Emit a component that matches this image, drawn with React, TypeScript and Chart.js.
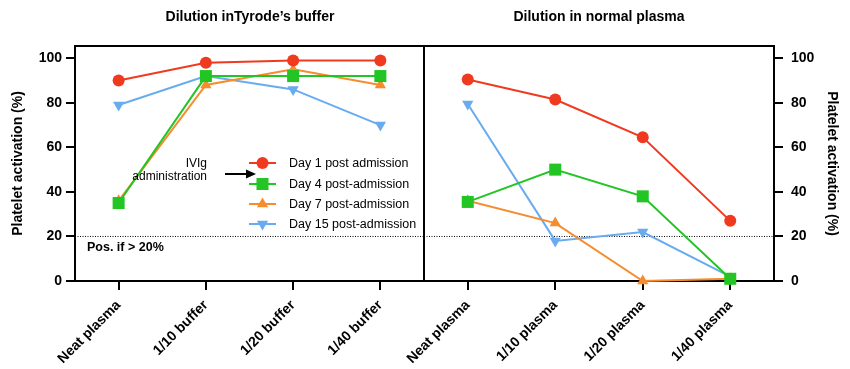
import React, { useEffect, useRef } from 'react';
import { Chart, registerables } from 'chart.js';
import { drawPoint } from 'chart.js/helpers';
Chart.register(...registerables);

const FONT = '"Liberation Sans", Arial, Helvetica, sans-serif';

const bufferCategories = ['Neat plasma', '1/10 buffer', '1/20 buffer', '1/40 buffer'];
const plasmaCategories = ['Neat plasma', '1/10 plasma', '1/20 plasma', '1/40 plasma'];
const seriesLabels = ['Day 1 post admission', 'Day 4 post-admission', 'Day 7 post-admission', 'Day 15 post-admission'];

const bufferDay1 = [90, 98, 99, 99];
const bufferDay4 = [35, 92, 92, 92];
const bufferDay7 = [36, 88, 95, 88];
const bufferDay15 = [79, 92, 86, 70];

const plasmaDay1 = [90.5, 81.5, 64.5, 27];
const plasmaDay4 = [35.5, 50, 38, 1];
const plasmaDay7 = [36, 26, 0, 1];
const plasmaDay15 = [79.5, 18, 22, 2];

const yTicks = [0, 20, 40, 60, 80, 100];
const threshold = 20;
const leftTitle = 'Dilution inTyrode\u2019s buffer';
const rightTitle = 'Dilution in normal plasma';
const yTitle = 'Platelet activation (%)';

const colors = ['#f03a1f', '#22c524', '#f68c2d', '#69abef'];
const pointStyles = ['circle', 'rect', 'triangle', 'triangle'];
const pointRotations = [0, 0, 0, 180];
const pointRadii = [6, 8.5, 6.5, 6.5];

function makeDatasets(series: number[][]) {
  return series.map((d, i) => ({
    label: seriesLabels[i],
    data: d,
    borderColor: colors[i],
    backgroundColor: colors[i],
    borderWidth: 2,
    pointStyle: pointStyles[i],
    pointRotation: pointRotations[i],
    pointRadius: pointRadii[i],
    pointBorderWidth: 0,
    pointBackgroundColor: colors[i],
    tension: 0,
    clip: false as any,
  }));
}

const framePlugin = {
  id: 'frame',
  beforeDatasetsDraw(chart: any) {
    const { ctx, scales } = chart;
    const x = scales.x;
    const y = scales.y;
    const l = x.left, r = x.right, t = y.top, b = y.bottom;
    const py = y.getPixelForValue(threshold);
    ctx.save();
    ctx.setLineDash([1, 1.5]);
    ctx.lineWidth = 1;
    ctx.strokeStyle = '#000';
    ctx.beginPath();
    ctx.moveTo(l, py);
    ctx.lineTo(r, py);
    ctx.stroke();
    ctx.setLineDash([]);
    ctx.lineWidth = 2;
    ctx.strokeRect(l, t, r - l, b - t);
    ctx.restore();
  },
};

function makeTitlePlugin(text: string, cx: number) {
  return {
    id: 'ttl',
    afterDraw(chart: any) {
      const { ctx } = chart;
      ctx.save();
      ctx.font = `bold 14px ${FONT}`;
      ctx.fillStyle = '#000';
      ctx.textAlign = 'center';
      ctx.textBaseline = 'alphabetic';
      ctx.fillText(text, cx, 21);
      ctx.restore();
    },
  };
}

const leftExtras = {
  id: 'leftExtras',
  afterDraw(chart: any) {
    const { ctx } = chart;
    ctx.save();
    const rows = [163, 184, 204, 224];
    rows.forEach((y, i) => {
      ctx.strokeStyle = colors[i];
      ctx.fillStyle = colors[i];
      ctx.lineWidth = 2;
      ctx.beginPath();
      ctx.moveTo(249, y);
      ctx.lineTo(276, y);
      ctx.stroke();
      drawPoint(ctx, { pointStyle: pointStyles[i], radius: pointRadii[i], rotation: pointRotations[i], borderWidth: 0 } as any, 262.5, y);
      ctx.fillStyle = '#000';
      ctx.font = `12.5px ${FONT}`;
      ctx.textAlign = 'left';
      ctx.textBaseline = 'middle';
      ctx.fillText(seriesLabels[i], 289, y + 0.5);
    });
    ctx.fillStyle = '#000';
    ctx.font = `12px ${FONT}`;
    ctx.textAlign = 'right';
    ctx.textBaseline = 'middle';
    ctx.fillText('IVIg', 207, 164);
    ctx.fillText('administration', 207, 177);
    ctx.strokeStyle = '#000';
    ctx.lineWidth = 2;
    ctx.beginPath();
    ctx.moveTo(225, 174);
    ctx.lineTo(247, 174);
    ctx.stroke();
    ctx.beginPath();
    ctx.moveTo(256, 174);
    ctx.lineTo(246, 169.5);
    ctx.lineTo(246, 178.5);
    ctx.closePath();
    ctx.fill();
    ctx.font = `bold 12.5px ${FONT}`;
    ctx.textAlign = 'left';
    ctx.fillText('Pos. if > 20%', 87, 248);
    ctx.restore();
  },
};

function zeroPad(s: any) {
  s.paddingLeft = 0;
  s.paddingRight = 0;
  s.paddingTop = 0;
  s.paddingBottom = 0;
}

function baseOptions(side: 'left' | 'right', categories: string[]) {
  return {
    responsive: false,
    animation: false as const,
    layout: {
      padding: side === 'left' ? { top: 46, right: 426, left: 0, bottom: 0 } : { top: 46, right: 0, left: 424, bottom: 0 },
    },
    plugins: { legend: { display: false }, tooltip: { enabled: false }, title: { display: false } },
    scales: {
      x: {
        type: 'category' as const,
        labels: categories,
        offset: true,
        grid: { display: true, drawOnChartArea: false, drawTicks: true, tickLength: 9, color: '#000', lineWidth: 2, offset: false },
        border: { display: false },
        ticks: {
          color: '#000',
          font: { family: FONT, size: 14, weight: 'bold' as const },
          minRotation: 45,
          maxRotation: 45,
          autoSkip: false,
          padding: 7,
        },
        afterFit: (s: any) => {
          s.height = 88;
          zeroPad(s);
        },
      },
      y: {
        position: side,
        min: 0,
        max: 105.5,
        grid: { display: true, drawOnChartArea: false, drawTicks: true, tickLength: 9, color: '#000', lineWidth: 2 },
        border: { display: false },
        afterBuildTicks: (s: any) => {
          s.ticks = yTicks.map((v) => ({ value: v }));
        },
        ticks: {
          color: '#000',
          font: { family: FONT, size: 14, weight: 'bold' as const },
          padding: side === 'left' ? 4 : 8,
        },
        title: {
          display: true,
          text: yTitle,
          color: '#000',
          font: { family: FONT, size: 14, weight: 'bold' as const },
          padding: { top: 10, bottom: 0 },
        },
        afterFit: (s: any) => {
          s.width = side === 'left' ? 75 : 76;
          zeroPad(s);
        },
      },
    },
  };
}

export default function App() {
  const leftRef = useRef<HTMLCanvasElement>(null);
  const rightRef = useRef<HTMLCanvasElement>(null);

  useEffect(() => {
    const left = new Chart(leftRef.current!, {
      type: 'line',
      data: {
        labels: bufferCategories,
        datasets: makeDatasets([bufferDay1, bufferDay4, bufferDay7, bufferDay15]) as any,
      },
      options: baseOptions('left', bufferCategories) as any,
      plugins: [framePlugin, makeTitlePlugin(leftTitle, 250), leftExtras],
    });
    const right = new Chart(rightRef.current!, {
      type: 'line',
      data: {
        labels: plasmaCategories,
        datasets: makeDatasets([plasmaDay1, plasmaDay4, plasmaDay7, plasmaDay15]) as any,
      },
      options: baseOptions('right', plasmaCategories) as any,
      plugins: [framePlugin, makeTitlePlugin(rightTitle, 599)],
    });
    return () => {
      left.destroy();
      right.destroy();
    };
  }, []);

  const cs: React.CSSProperties = { position: 'absolute', left: 0, top: 0, width: 850, height: 369 };
  return (
    <div style={{ position: 'absolute', left: 0, top: 0, width: 850, height: 369, background: '#fff' }}>
      <canvas ref={leftRef} width={850} height={369} style={cs} />
      <canvas ref={rightRef} width={850} height={369} style={cs} />
    </div>
  );
}
